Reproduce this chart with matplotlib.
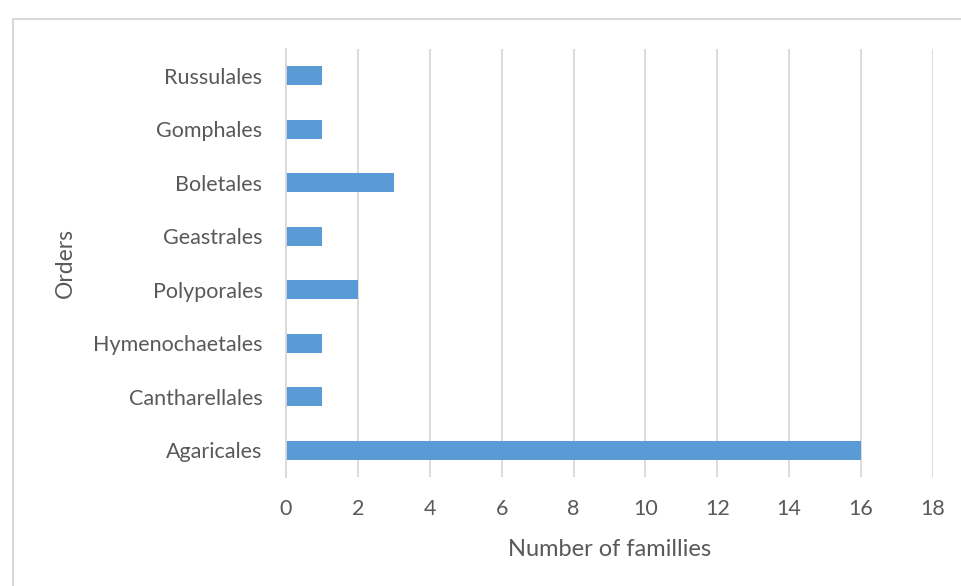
import matplotlib
matplotlib.use("Agg")
import matplotlib.pyplot as plt
from matplotlib.lines import Line2D

# data (bottom to top as drawn)
orders = ['Agaricales', 'Cantharellales', 'Hymenochaetales', 'Polyporales',
          'Geastrales', 'Boletales', 'Gomphales', 'Russulales']
families = [16, 1, 1, 2, 1, 3, 1, 1]
x_ticks = [0, 2, 4, 6, 8, 10, 12, 14, 16, 18]

plt.rcParams['font.family'] = ['Lato', 'DejaVu Sans']
text_color = '#595959'
grid_color = '#d9d9d9'

fig = plt.figure(figsize=(9.62, 5.86), dpi=100)
ax = fig.add_axes([286 / 962, 1 - 477 / 586, 647 / 962, 428 / 586])

ax.barh(range(len(orders)), families, height=0.35, color='#5B9BD5')

ax.set_xlim(0, 18)
ax.set_ylim(-0.5, len(orders) - 0.5)
ax.set_xticks(x_ticks)
ax.set_yticks(range(len(orders)))
ax.set_yticklabels(orders)
ax.tick_params(axis='both', length=0, labelsize=15.5, labelcolor=text_color)
ax.tick_params(axis='y', pad=17)
ax.tick_params(axis='x', pad=16)

ax.grid(axis='x', color=grid_color, linewidth=1.3)
ax.set_axisbelow(True)
for side in ['top', 'right', 'bottom']:
    ax.spines[side].set_visible(False)
ax.spines['left'].set_color(grid_color)
ax.spines['left'].set_linewidth(1.3)

ax.set_xlabel('Number of famillies', fontsize=17, color=text_color, labelpad=14)
ax.set_ylabel('Orders', fontsize=16.5, color=text_color, labelpad=12)

# chart frame (top and left edges visible)
fig.add_artist(Line2D([13 / 962, 13 / 962], [0, 1 - 19 / 586],
                      transform=fig.transFigure, color=grid_color, linewidth=1.5))
fig.add_artist(Line2D([13 / 962, 1], [1 - 19 / 586, 1 - 19 / 586],
                      transform=fig.transFigure, color=grid_color, linewidth=1.5))

fig.savefig('out.png', dpi=100)
